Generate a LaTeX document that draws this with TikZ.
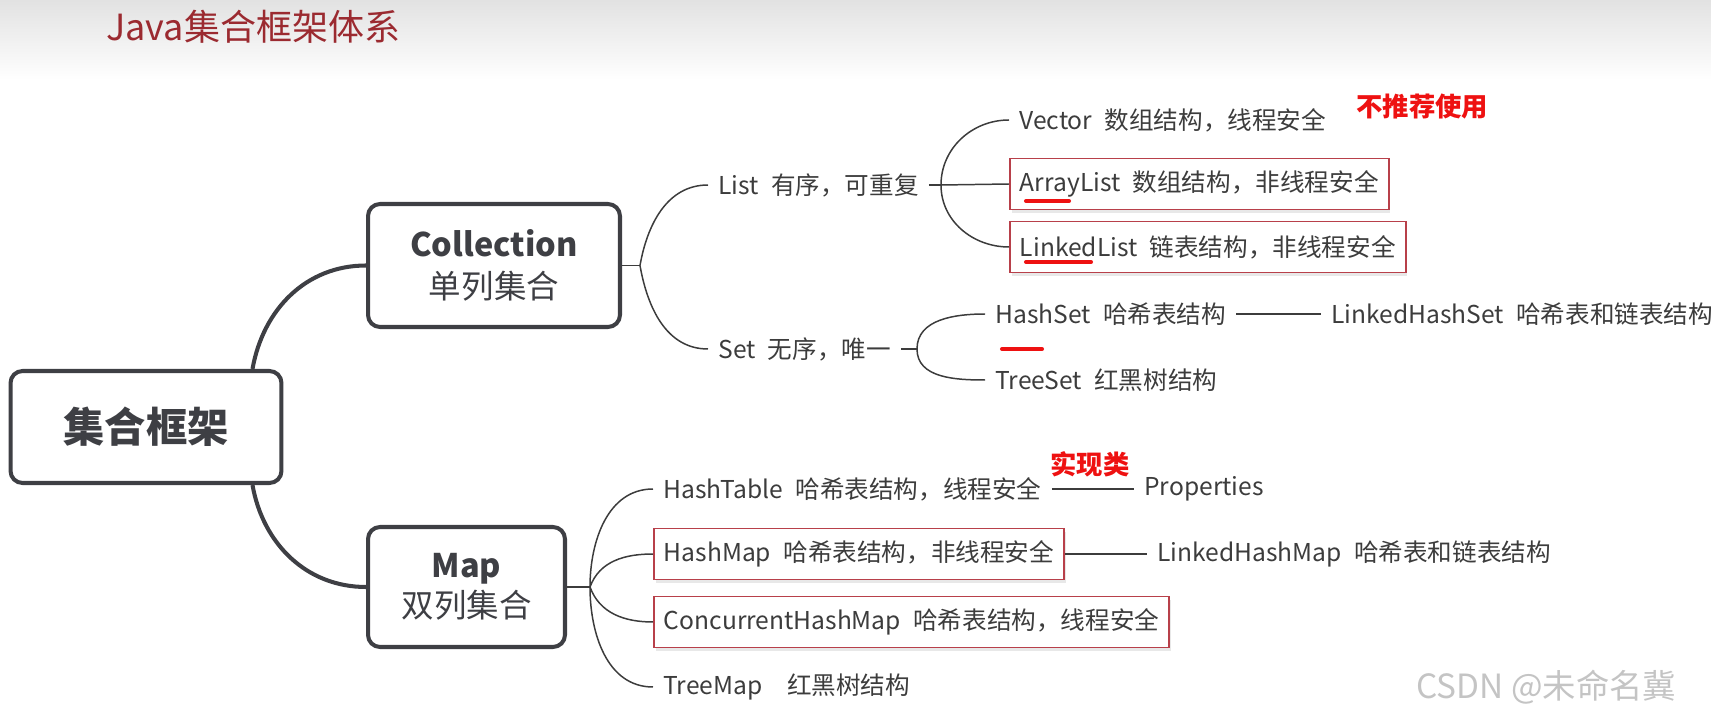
\documentclass[tikz,border=0pt]{standalone}
\usepackage{fontspec}
\setmainfont{Noto Sans CJK SC}
\usepackage{xcolor}
\usepackage{tikz}
\usetikzlibrary{shadows}
\definecolor{bggray}{HTML}{E2E2E2}
\definecolor{titlered}{HTML}{9B2A30}
\definecolor{hubgray}{HTML}{3E3F44}
\definecolor{leafgray}{HTML}{3C3C3C}
\definecolor{boxred}{HTML}{B8404A}
\definecolor{alertred}{HTML}{EE1111}
\definecolor{wmgray}{HTML}{C4C4C4}

\begin{document}
\begin{tikzpicture}[x=0.02cm, y=-0.02cm,
  hub/.style={draw=hubgray, line width=2.3pt, rounded corners=0.24cm,
    align=center, text=hubgray},
  leaf/.style={anchor=west, inner xsep=0.2cm, inner ysep=2pt, text=leafgray,
    font=\fontsize{14}{16}\selectfont},
  hot/.style={leaf, draw=boxred, line width=1.1pt, fill=white,
    minimum height=1.02cm,
    drop shadow={opacity=0.18, shadow xshift=1pt, shadow yshift=-2pt}},
  limb/.style={draw=hubgray, line width=2.3pt},
  twig/.style={draw=leafgray, line width=0.85pt},
  redmark/.style={draw=alertred, line width=2.3pt, line cap=round},
  alert/.style={anchor=west, inner sep=0pt, text=alertred,
    font=\bfseries\fontsize{15}{17}\selectfont}]
  % page and the grey band behind the title
  \useasboundingbox (0,0) rectangle (1711,719);
  \shade[top color=bggray, bottom color=white] (0,0) rectangle (1711,80);
  \node[anchor=west, inner sep=0pt, text=titlered,
    font=\fontsize{20.5}{24}\selectfont] (title) at (106,27) {Java集合框架体系};

  % the three boxes
  \node[hub, minimum width=5.42cm, minimum height=2.24cm,
    font=\bfseries\fontsize{23.5}{26}\selectfont] (root) at (146,427) {集合框架};
  \node[hub, minimum width=5.04cm, minimum height=2.46cm,
    font=\fontsize{18.5}{24}\selectfont] (coll) at (494,265.5)
    {\textbf{Collection}\\单列集合};
  \node[hub, minimum width=3.94cm, minimum height=2.4cm,
    font=\fontsize{18.5}{23}\selectfont] (map) at (466.5,587)
    {\textbf{Map}\\双列集合};
  \draw[limb] ([xshift=-0.62cm]root.north east) to[out=80, in=180] (coll.west);
  \draw[limb] ([xshift=-0.62cm]root.south east) to[out=-80, in=180] (map.west);

  % Collection side
  \node[leaf] (list) at (708,185) {List\enspace 有序，可重复};
  \node[leaf] (set) at (708,349) {Set\enspace 无序，唯一};
  \coordinate (cb) at (640,265.5);
  \draw[twig] (coll.east) -- (cb);
  \draw[twig] (cb) to[out=80, in=180] (list.west);
  \draw[twig] (cb) to[out=-80, in=180] (set.west);

  \node[leaf] (vector) at (1009,120) {Vector\enspace 数组结构，线程安全};
  \node[hot] (arraylist) at (1009,184) {ArrayList\enspace 数组结构，非线程安全};
  \node[hot] (linkedlist) at (1009,247) {LinkedList\enspace 链表结构，非线程安全};
  \node[alert] (notrec) at (1356,107) {不推荐使用};
  \coordinate (lb) at (941,185);
  \draw[twig] (list.east) -- (lb);
  \draw[twig] (lb) to[out=90, in=180] (vector.west);
  \draw[twig] (lb) -- (arraylist.west);
  \draw[twig] (lb) to[out=-90, in=180] (linkedlist.west);

  \node[leaf] (hashset) at (985,314) {HashSet\enspace 哈希表结构};
  \node[leaf] (treeset) at (985,380) {TreeSet\enspace 红黑树结构};
  \node[leaf] (lhset) at (1321,314) {LinkedHashSet\enspace 哈希表和链表结构};
  \coordinate (sb) at (917,349);
  \draw[twig] (set.east) -- (sb);
  \draw[twig] (sb) to[out=90, in=180] (hashset.west);
  \draw[twig] (sb) to[out=-90, in=180] (treeset.west);
  \draw[twig] (hashset.east) -- (lhset.west);

  % Map side
  \node[leaf] (hashtable) at (653,489) {HashTable\enspace 哈希表结构，线程安全};
  \node[hot] (hashmap) at (653,554) {HashMap\enspace 哈希表结构，非线程安全};
  \node[hot] (chmap) at (653,622) {ConcurrentHashMap\enspace 哈希表结构，线程安全};
  \node[leaf] (treemap) at (653,687) {TreeMap\quad 红黑树结构};
  \node[leaf] (props) at (1134,489) {Properties};
  \node[leaf] (lhmap) at (1147,554) {LinkedHashMap\enspace 哈希表和链表结构};
  \node[alert] (impl) at (1050,464) {实现类};
  \coordinate (mb) at (590,587);
  \draw[twig] (map.east) -- (mb);
  \draw[twig] (mb) to[out=90, in=180] (hashtable.west);
  \draw[twig] (mb) to[out=70, in=180] (hashmap.west);
  \draw[twig] (mb) to[out=-70, in=180] (chmap.west);
  \draw[twig] (mb) to[out=-90, in=180] (treemap.west);
  \draw[twig] (hashtable.east) -- (props.west);
  \draw[twig] (hashmap.east) -- (lhmap.west);

  % red pen marks
  \draw[redmark] (1026,201) -- (1069,201);
  \draw[redmark] (1026,262) -- (1091,262);
  \draw[redmark] (1002,349) -- (1042,349);

  \node[anchor=west, inner sep=0pt, text=wmgray,
    font=\fontsize{19}{22}\selectfont] (credit) at (1416,687) {CSDN @未命名冀};
\end{tikzpicture}
\end{document}
